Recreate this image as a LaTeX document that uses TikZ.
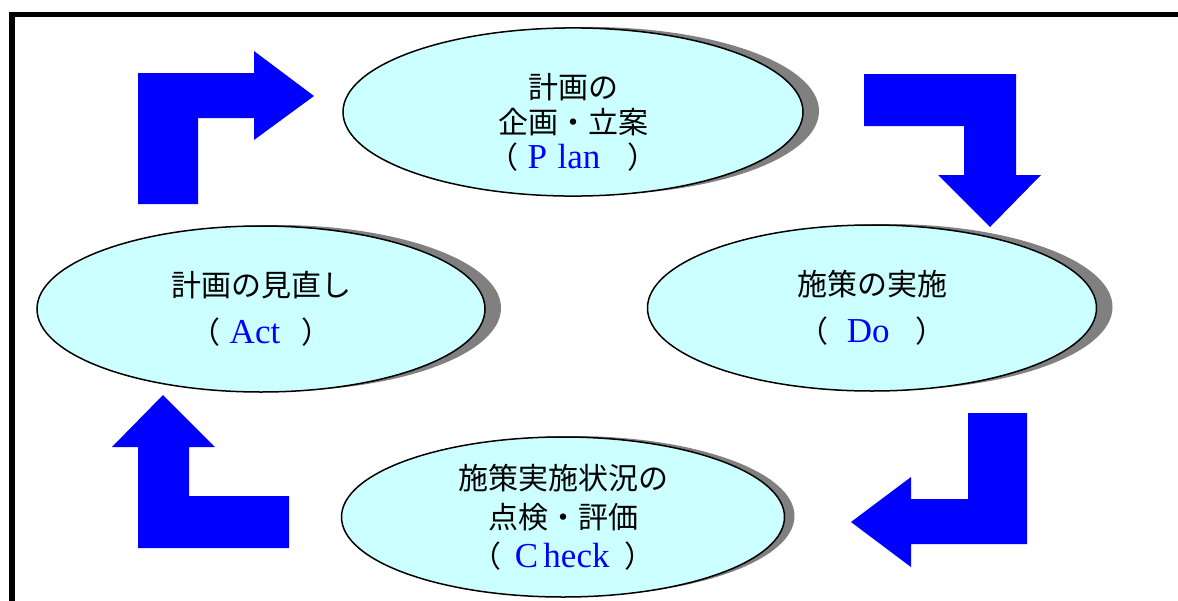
\documentclass[tikz,border=0pt]{standalone}
\usepackage{fontspec}
\setmainfont{Liberation Serif}
\newfontfamily\jpfont{Noto Sans CJK JP}
\usetikzlibrary{shapes.geometric,shadows}
\definecolor{paleCyan}{HTML}{CCFFFF}
\definecolor{shadowGray}{HTML}{808080}
\newcommand\engl[1]{{\rmfamily\fontsize{17.5pt}{17.5pt}\selectfont\color{blue}#1}}

\begin{document}
\begin{tikzpicture}[x=0.5pt,y=-0.5pt,
  phase/.style={ellipse,draw,line width=0.75pt,fill=paleCyan,inner sep=0pt,align=center,
    font=\jpfont\fontsize{15pt}{17.5pt}\selectfont,
    drop shadow={shadow xshift=#1,shadow yshift=0.5pt,fill=shadowGray,opacity=1}},
  phase/.default=8pt,
  turn/.style={fill=blue}]
  \useasboundingbox (0,0) rectangle (1178,600);
  \clip (0,0) rectangle (1178,600);
  \draw[line width=2.8pt] (12,640) -- (12,14.5) -- (1220,14.5);
  \node[phase,minimum width=230pt,minimum height=77pt] (plan) at (573,112)
    {\rule{0pt}{23pt}計画の\\企画・立案\\（\hspace{0.3em}\engl{P\hspace{0.3em}lan}\hspace{0.9em}）};
  \node[phase,minimum width=224.5pt,minimum height=83pt] (do) at (872,308)
    {施策の実施\\[6pt]（\hspace{0.6em}\engl{Do}\hspace{0.85em}）};
  \node[phase=5pt,minimum width=221.5pt,minimum height=80pt] (check) at (563,517)
    {施策実施状況の\\[2pt]点検・評価\\[2pt]（\hspace{0.45em}\engl{C\hspace{0.15em}heck}\hspace{0.5em}）};
  \node[phase,minimum width=224pt,minimum height=83pt] (act) at (261,309)
    {計画の見直し\\[6pt]（\hspace{0.3em}\engl{Act}\hspace{0.7em}）};
  \fill[turn] (138,204) -- (138,73) -- (254,73) -- (254,51) -- (314,96) -- (254,140)
    -- (254,118) -- (198,118) -- (198,204) -- cycle;
  \fill[turn] (864,74) -- (1016,74) -- (1016,175) -- (1041,175) -- (990,227) -- (938,175)
    -- (964,175) -- (964,126) -- (864,126) -- cycle;
  \fill[turn] (968,413) -- (1027,413) -- (1027,544) -- (911,544) -- (911,567) -- (851,522)
    -- (911,477) -- (911,499) -- (968,499) -- cycle;
  \fill[turn] (289,548) -- (138,548) -- (138,447) -- (112,447) -- (163,395) -- (215,447)
    -- (189,447) -- (189,496) -- (289,496) -- cycle;
\end{tikzpicture}
\end{document}
